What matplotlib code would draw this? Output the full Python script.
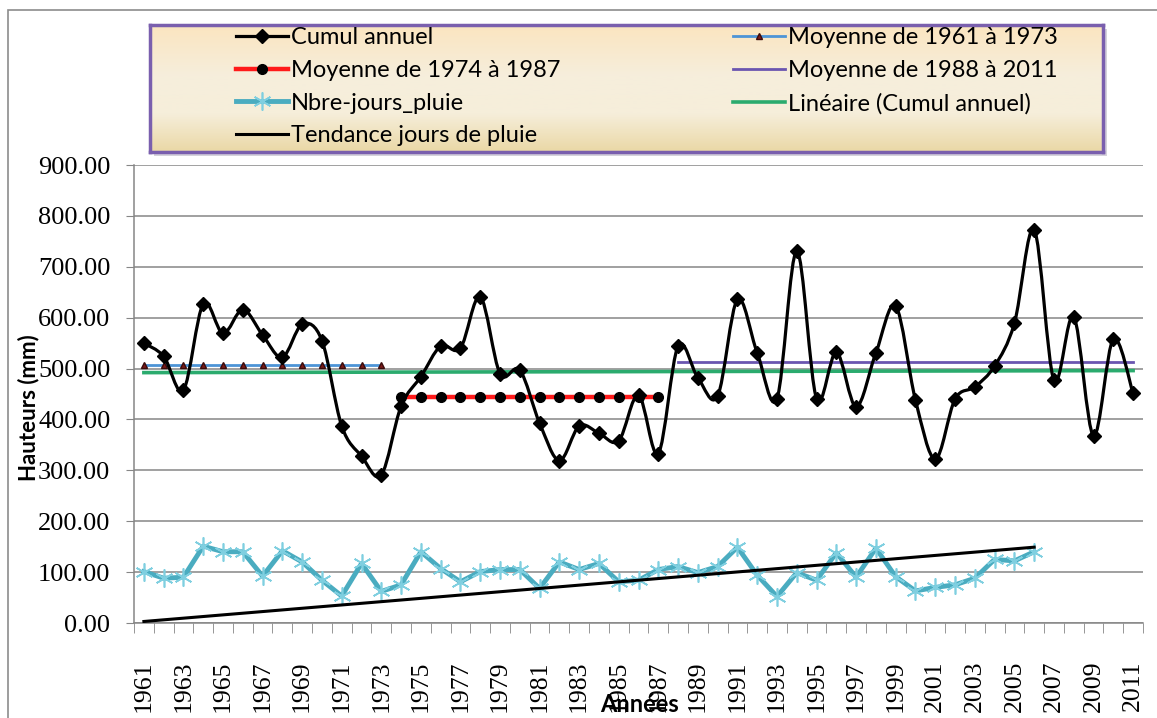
import numpy as np
import matplotlib.pyplot as plt
from matplotlib.path import Path
from matplotlib.patches import PathPatch, Rectangle
from matplotlib.lines import Line2D

# Donnees
years = np.arange(1961, 2012)
cumul = [550, 524, 458, 627, 569, 616, 566, 522, 587, 555, 387, 328, 291,
         426, 484, 544, 540, 641, 490, 497, 393, 319, 387, 373, 358, 448, 333,
         544, 482, 446, 636, 531, 441, 731, 441, 532, 425, 531, 623, 438, 322,
         440, 464, 505, 589, 773, 477, 602, 368, 558, 451]
years_pluie = np.arange(1961, 2007)
jours_pluie = [101, 88, 90, 151, 140, 140, 92, 142, 120, 84, 53, 117, 62,
               75, 140, 107, 81, 101, 105, 105, 68, 120, 105, 117, 81, 84, 105,
               111, 99, 111, 149, 94, 52, 99, 84, 138, 90, 147, 91, 63, 70,
               75, 88, 125, 122, 140]
moy_1961_1973 = 507
moy_1974_1987 = 445
moy_1988_2011 = 513
lineaire_ends = [492, 496]      # 1961, 2011
tendance_ends = [3, 149]        # 1961, 2006
ytick_vals = np.arange(0, 901, 100)

W, H = 1157, 718
fig = plt.figure(figsize=(W / 100, H / 100), dpi=100)
fig.patch.set_facecolor('white')

# cadre gris du graphique
fig.patches.append(Rectangle((8 / W, -0.1), 1.2, 1.1 - 10 / H, transform=fig.transFigure,
                             fill=False, ec='#8c8c8c', lw=1.2, zorder=-2))


def smooth_path(x, y):
    # courbe lissee facon Excel (Catmull-Rom -> Bezier)
    verts = [(x[0], y[0])]
    codes = [Path.MOVETO]
    n = len(x)
    for i in range(n - 1):
        x0, y0 = (x[i - 1], y[i - 1]) if i > 0 else (x[i], y[i])
        x3, y3 = (x[i + 2], y[i + 2]) if i + 2 < n else (x[i + 1], y[i + 1])
        c1 = (x[i] + (x[i + 1] - x0) / 6, y[i] + (y[i + 1] - y0) / 6)
        c2 = (x[i + 1] - (x3 - x[i]) / 6, y[i + 1] - (y3 - y[i]) / 6)
        verts += [c1, c2, (x[i + 1], y[i + 1])]
        codes += [Path.CURVE4] * 3
    return Path(verts, codes)


ax = fig.add_axes([134 / W, 1 - 623 / H, (1143 - 134) / W, (623 - 165) / H])
ax.set_xlim(1960.5, 2011.5)
ax.set_ylim(0, 900)
ax.set_facecolor('white')

ax.yaxis.grid(True, color='#868686', lw=1.1)
ax.set_axisbelow(True)
for s in ['top', 'right']:
    ax.spines[s].set_visible(False)
for s in ['left', 'bottom']:
    ax.spines[s].set_color('#868686')
    ax.spines[s].set_linewidth(1.1)

# series
ax.plot([1961, 2011], lineaire_ends, color='#2bab6e', lw=2.6, zorder=3)
ax.plot(years[:13], [moy_1961_1973] * 13, color='#4d94d6', lw=2,
        marker='^', ms=5, mfc='#7a1a1a', mec='#3a0a0a', zorder=4)
ax.plot(years[13:27], [moy_1974_1987] * 14, color='#ff1a1a', lw=3.2,
        marker='o', ms=7, mfc='black', mec='black', zorder=4)
ax.plot([1988, 2011], [moy_1988_2011] * 2, color='#6a55b0', lw=2, zorder=4)
ax.plot(years_pluie, jours_pluie, color='#4aacc0', lw=3.5,
        marker=(6, 2, 0), ms=13, mec='#7fcfe0', mew=1.2, zorder=4)
ax.plot([1961, 2006], tendance_ends, color='black', lw=2.2, zorder=5)
ax.add_patch(PathPatch(smooth_path(years, cumul), fill=False, ec='black', lw=2.3, zorder=6))
ax.plot(years, cumul, ls='none', marker='D', ms=7, color='black', zorder=7)

# axes
ax.set_yticks(ytick_vals)
ax.set_yticklabels(['%.2f' % v for v in ytick_vals], family='Liberation Serif', fontsize=19)
ax.tick_params(axis='y', length=6, color='#868686', pad=11)
ax.set_xticks(years[::2])
ax.set_xticklabels([str(y) for y in years[::2]], rotation=90,
                   family='Liberation Serif', fontsize=18.5)
ax.set_xticks(np.arange(1960.5, 2012), minor=True)
ax.tick_params(axis='x', which='major', length=0, pad=27)
ax.tick_params(axis='x', which='minor', length=7, color='#868686')

fig.text(29 / W, 1 - 408 / H, 'Hauteurs (mm)', rotation=90, ha='center', va='center',
         family='Lato', fontweight='bold', fontsize=16)
fig.text(640 / W, 1 - 704 / H, 'Années', ha='center', va='center',
         family='Lato', fontweight='bold', fontsize=17)

# fond de la legende
lx0, ly0, lx1, ly1 = 150, 25, 1103, 152
fig.patches.append(Rectangle(((lx0 + 4) / W, 1 - (ly1 + 4) / H), (lx1 - lx0) / W, (ly1 - ly0) / H,
                             transform=fig.transFigure, fc='#b9b4c4', ec='none', alpha=0.6,
                             zorder=-1))
lax = fig.add_axes([lx0 / W, 1 - ly1 / H, (lx1 - lx0) / W, (ly1 - ly0) / H])
grad = np.array([[251, 229, 192], [246, 238, 220], [246, 238, 218], [234, 216, 166]]) / 255
t = np.linspace(0, 1, 100)
img = np.stack([np.interp(t, [0, 0.4, 0.7, 1], grad[:, k]) for k in range(3)], axis=1)
lax.imshow(img[:, None, :], aspect='auto', extent=[0, 1, 0, 1])
lax.set_xticks([])
lax.set_yticks([])
for s in lax.spines.values():
    s.set_color('#7a5fae')
    s.set_linewidth(2.5)

h_cumul = Line2D([], [], color='black', lw=2.3, marker='D', ms=7)
h_m1 = Line2D([], [], color='#4d94d6', lw=2, marker='^', ms=5, mfc='#7a1a1a', mec='#3a0a0a')
h_m2 = Line2D([], [], color='#ff1a1a', lw=3.2, marker='o', ms=7, mfc='black', mec='black')
h_m3 = Line2D([], [], color='#6a55b0', lw=2)
h_jp = Line2D([], [], color='#4aacc0', lw=3.5, marker=(6, 2, 0), ms=13, mec='#7fcfe0', mew=1.2)
h_lin = Line2D([], [], color='#2bab6e', lw=2.6)
h_tend = Line2D([], [], color='black', lw=2.2)

lkw = dict(frameon=False, prop={'family': 'Lato', 'size': 17}, handlelength=2.2,
           handletextpad=0.12, labelspacing=0.5, borderpad=0, borderaxespad=0,
           loc='upper left')
leg1 = fig.legend([h_cumul, h_m2, h_jp, h_tend],
                  ['Cumul annuel', 'Moyenne de 1974 à 1987', 'Nbre-jours_pluie',
                   'Tendance jours de pluie'],
                  bbox_to_anchor=(236 / W, 1 - 27 / H), **lkw)
leg2 = fig.legend([h_m1, h_m3, h_lin],
                  ['Moyenne de 1961 à 1973', 'Moyenne de 1988 à 2011', 'Linéaire (Cumul annuel)'],
                  bbox_to_anchor=(733 / W, 1 - 27 / H), **lkw)

fig.savefig('out.png', dpi=100)
